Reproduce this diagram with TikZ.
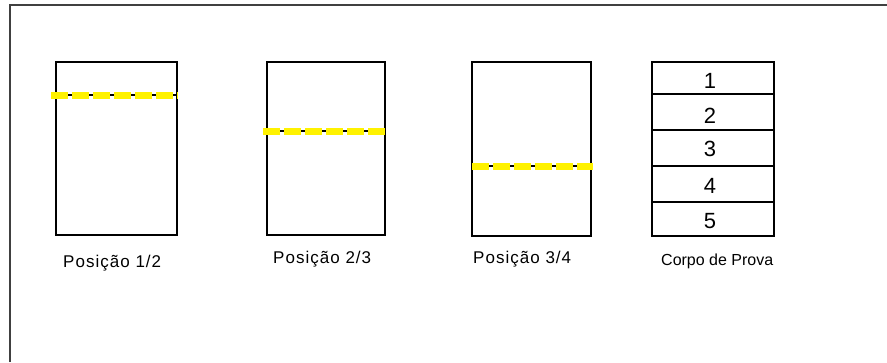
\documentclass[tikz,border=0pt]{standalone}
\usepackage{fontspec}
\setmainfont{Liberation Sans}
\newfontfamily\spacedfont[LetterSpace=6]{Liberation Sans}
\begin{document}
\begin{tikzpicture}[x=1pt,y=-1pt,
  panel/.style={draw=black,line width=1.8pt},
  cutline/.style={yellow,line width=7pt,dash pattern=on 17pt off 4pt},
  cutbase/.style={black,line width=2pt},
  poslabel/.style={anchor=base west,inner sep=0pt,font=\spacedfont\fontsize{17}{19}\selectfont},
  cplabel/.style={anchor=base west,inner sep=0pt,font=\fontsize{16}{18}\selectfont},
  num/.style={inner sep=0pt,font=\fontsize{22}{24}\selectfont}]
\useasboundingbox (0,0) rectangle (887,362);
\fill[white] (0,0) rectangle (887,362);
% outer frame (only top and left edges fall inside the page)
\draw[line width=2pt,black!75] (10,362) -- (10,5) -- (887,5);

% position 1/2
\draw[panel] (56,62) rectangle (177,235);
\draw[cutbase] (51,95) -- (178,95);
\draw[cutline] (51,95) -- (178,95);
\node[poslabel] (l1) at (63,267) {Posição 1/2};

% position 2/3
\draw[panel] (267,62) rectangle (385,235);
\draw[cutbase] (263,131) -- (385,131);
\draw[cutline] (263,131) -- (385,131);
\node[poslabel] (l2) at (273,263) {Posição 2/3};

% position 3/4
\draw[panel] (472,62) rectangle (591,236);
\draw[cutbase] (472,166) -- (593,166);
\draw[cutline] (472,166) -- (593,166);
\node[poslabel] (l3) at (473,263) {Posição 3/4};

% specimen divided into five slices
\draw[panel] (652,62) rectangle (774,236);
\foreach \yy in {94,130,166,202} \draw[panel] (652,\yy) -- (774,\yy);
\node[num] (n1) at (710,81) {1};
\node[num] (n2) at (710,116) {2};
\node[num] (n3) at (710,149) {3};
\node[num] (n4) at (710,186) {4};
\node[num] (n5) at (710,221) {5};
\node[cplabel] (l4) at (661,265) {Corpo de Prova};
\end{tikzpicture}
\end{document}
